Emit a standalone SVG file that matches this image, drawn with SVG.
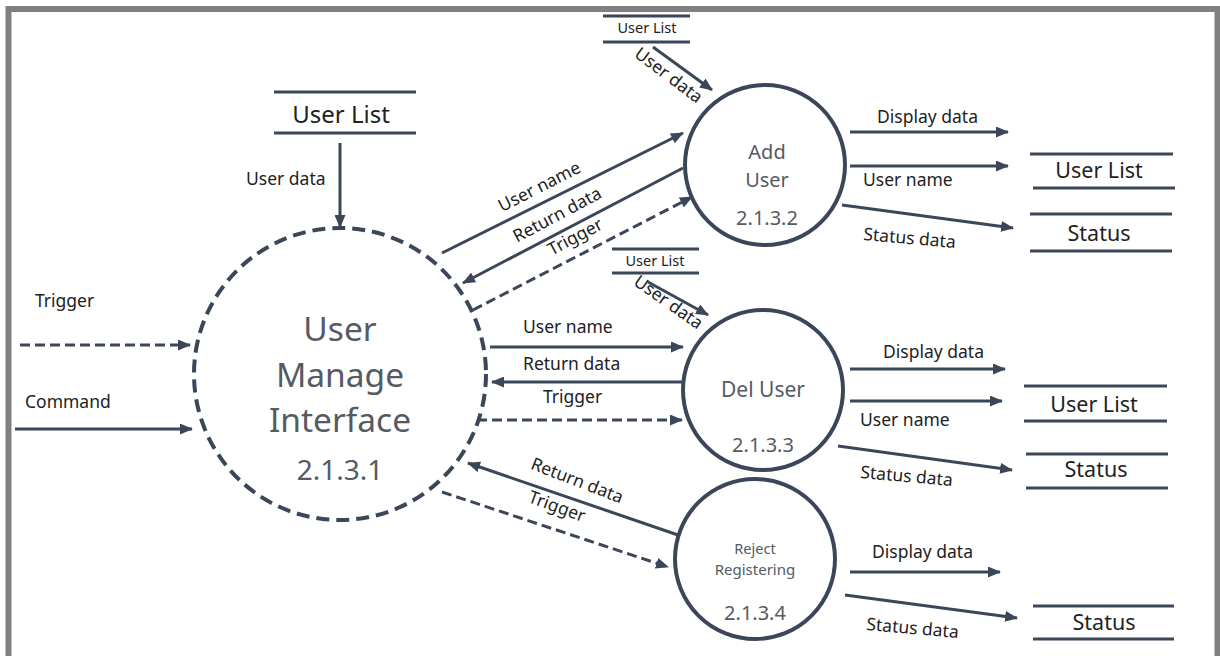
<svg xmlns="http://www.w3.org/2000/svg" width="1220" height="656" viewBox="0 0 1220 656">
<defs>
<marker id="ah" markerUnits="userSpaceOnUse" markerWidth="13" markerHeight="11" refX="12" refY="5.5" orient="auto">
<path d="M0,0 L13,5.5 L0,11 z" fill="#3b4759"/>
</marker>
<style>
.ln{stroke:#3b4759;stroke-width:3;fill:none;marker-end:url(#ah)}
.ds{stroke-dasharray:10 5}
.st{stroke:#3b4759;stroke-width:3}
.proc{fill:#fff;stroke:#3b4759;stroke-width:4}
.lb{font-family:"Noto Sans","Open Sans",sans-serif;font-size:17.5px;fill:#222}
.pt{font-family:"Noto Sans","Open Sans",sans-serif;fill:#555a63;text-anchor:middle}
.sl{font-family:"Noto Sans","Open Sans",sans-serif;fill:#222;text-anchor:middle}
</style>
</defs>
<rect x="0" y="0" width="1220" height="656" fill="#fff"/>
<rect x="8.5" y="9" width="1209" height="652" fill="none" stroke="#808080" stroke-width="6"/>

<g id="connectors">
<line class="ln" x1="340" y1="143" x2="340" y2="227"/>
<line class="ln" x1="653" y1="47" x2="712" y2="90"/>
<line class="ln" x1="442" y1="253" x2="683" y2="133"/>
<line class="ln" x1="683" y1="168" x2="463" y2="283"/>
<line class="ln ds" x1="473" y1="310" x2="692" y2="197"/>
<line class="ln" x1="850" y1="132" x2="1008" y2="132"/>
<line class="ln" x1="850" y1="166" x2="1008" y2="166"/>
<line class="ln" x1="842" y1="205" x2="1013" y2="228"/>
<line class="ln" x1="648" y1="282" x2="708" y2="315"/>
<line class="ln" x1="490" y1="347" x2="683" y2="347"/>
<line class="ln" x1="683" y1="382" x2="492" y2="382"/>
<line class="ln ds" x1="477" y1="420" x2="682" y2="420"/>
<line class="ln" x1="850" y1="369" x2="1005" y2="369"/>
<line class="ln" x1="850" y1="401" x2="1002" y2="401"/>
<line class="ln" x1="838" y1="446" x2="1012" y2="470"/>
<line class="ln" x1="678" y1="535" x2="468" y2="463"/>
<line class="ln ds" x1="442" y1="492" x2="668" y2="567"/>
<line class="ln" x1="850" y1="572" x2="1000" y2="572"/>
<line class="ln" x1="845" y1="595" x2="1017" y2="618"/>
<line class="ln ds" x1="20" y1="345" x2="190" y2="345"/>
<line class="ln" x1="15" y1="429" x2="192" y2="429"/>

<text class="lb" x="246" y="185">User data</text>
<text class="lb" font-size="14.5" transform="translate(665,80) rotate(37)" text-anchor="middle">User data</text>
<text class="lb" transform="translate(542,192) rotate(-27)" text-anchor="middle">User name</text>
<text class="lb" transform="translate(560,220) rotate(-28)" text-anchor="middle">Return data</text>
<text class="lb" transform="translate(578,242) rotate(-28)" text-anchor="middle">Trigger</text>
<text class="lb" x="877" y="123">Display data</text>
<text class="lb" x="863" y="186">User name</text>
<text class="lb" transform="translate(863,240) rotate(5)">Status data</text>
<text class="lb" font-size="14.5" transform="translate(665,307) rotate(35)" text-anchor="middle">User data</text>
<text class="lb" x="523" y="333">User name</text>
<text class="lb" x="523" y="370">Return data</text>
<text class="lb" x="543" y="403">Trigger</text>
<text class="lb" x="883" y="358">Display data</text>
<text class="lb" x="860" y="426">User name</text>
<text class="lb" transform="translate(860,478) rotate(5)">Status data</text>
<text class="lb" transform="translate(575,486) rotate(21)" text-anchor="middle">Return data</text>
<text class="lb" transform="translate(555,512) rotate(20)" text-anchor="middle">Trigger</text>
<text class="lb" x="872" y="558">Display data</text>
<text class="lb" transform="translate(866,630) rotate(5)">Status data</text>
<text class="lb" font-size="20" x="35" y="307">Trigger</text>
<text class="lb" font-size="20" x="25" y="408">Command</text>
</g>

<g id="store-userlist-top">
<line class="st" x1="274" y1="92" x2="416" y2="92"/>
<line class="st" x1="274" y1="133" x2="416" y2="133"/>
<text class="sl" x="341" y="123" font-size="24">User List</text>
</g>
<g id="store-userlist-add-in">
<line class="st" x1="603" y1="16" x2="690" y2="16"/>
<line class="st" x1="603" y1="42" x2="690" y2="42"/>
<text class="sl" x="647" y="33" font-size="14.5">User List</text>
</g>
<g id="store-userlist-add-out">
<line class="st" x1="1030" y1="154" x2="1173" y2="154"/>
<line class="st" x1="1033" y1="188" x2="1175" y2="188"/>
<text class="sl" x="1099" y="178" font-size="21.5">User List</text>
</g>
<g id="store-status-add">
<line class="st" x1="1030" y1="214" x2="1172" y2="214"/>
<line class="st" x1="1030" y1="251" x2="1172" y2="251"/>
<text class="sl" x="1099" y="241" font-size="21.5">Status</text>
</g>
<g id="store-userlist-del-in">
<line class="st" x1="612" y1="249" x2="699" y2="249"/>
<line class="st" x1="612" y1="273" x2="699" y2="273"/>
<text class="sl" x="655" y="266" font-size="14.5">User List</text>
</g>
<g id="store-userlist-del-out">
<line class="st" x1="1024" y1="386" x2="1167" y2="386"/>
<line class="st" x1="1024" y1="421" x2="1167" y2="421"/>
<text class="sl" x="1094" y="412" font-size="21.5">User List</text>
</g>
<g id="store-status-del">
<line class="st" x1="1026" y1="454" x2="1168" y2="454"/>
<line class="st" x1="1026" y1="488" x2="1168" y2="488"/>
<text class="sl" x="1096" y="477" font-size="21.5">Status</text>
</g>
<g id="store-status-reject">
<line class="st" x1="1033" y1="606" x2="1174" y2="606"/>
<line class="st" x1="1033" y1="639" x2="1174" y2="639"/>
<text class="sl" x="1104" y="630" font-size="21.5">Status</text>
</g>

<g id="node-2131">
<circle cx="340" cy="374" r="146" fill="none" stroke="#3b4759" stroke-width="4" stroke-dasharray="13 7"/>
<text class="pt" x="340" y="341" font-size="33.5">User</text>
<text class="pt" x="340" y="387" font-size="33.5">Manage</text>
<text class="pt" x="340" y="432" font-size="33.5">Interface</text>
<text class="pt" x="340" y="480" font-size="28">2.1.3.1</text>
</g>
<g id="node-2132">
<circle class="proc" cx="765" cy="165" r="80"/>
<text class="pt" x="767" y="159" font-size="20">Add</text>
<text class="pt" x="767" y="187" font-size="20">User</text>
<text class="pt" x="767" y="225" font-size="20">2.1.3.2</text>
</g>
<g id="node-2133">
<circle class="proc" cx="763" cy="390" r="80"/>
<text class="pt" x="763" y="397" font-size="21">Del User</text>
<text class="pt" x="763" y="452" font-size="20">2.1.3.3</text>
</g>
<g id="node-2134">
<circle class="proc" cx="755" cy="559" r="80"/>
<text class="pt" x="755" y="554" font-size="14.5">Reject</text>
<text class="pt" x="755" y="575" font-size="15">Registering</text>
<text class="pt" x="755" y="620" font-size="20">2.1.3.4</text>
</g>
</svg>
